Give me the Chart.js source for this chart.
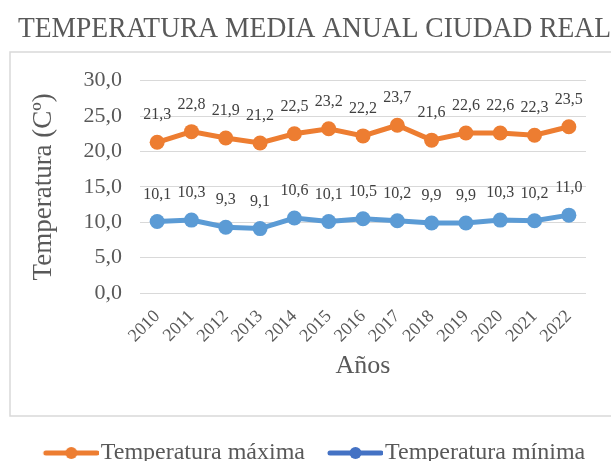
<!DOCTYPE html>
<html>
<head>
<meta charset="utf-8">
<script src="https://cdn.jsdelivr.net/npm/chart.js@4.4.1/dist/chart.umd.min.js"></script>
<style>
  html, body { margin: 0; padding: 0; background: #fff; }
  #wrap { width: 611px; height: 461px; }
</style>
</head>
<body>
<div id="wrap"><canvas id="chartTemp"></canvas></div>
<script>
// datos
var anios = ['2010','2011','2012','2013','2014','2015','2016','2017','2018','2019','2020','2021','2022'];
var tempMaxima = [21.3, 22.8, 21.9, 21.2, 22.5, 23.2, 22.2, 23.7, 21.6, 22.6, 22.6, 22.3, 23.5];
var tempMinima = [10.1, 10.3, 9.3, 9.1, 10.6, 10.1, 10.5, 10.2, 9.9, 9.9, 10.3, 10.2, 11.0];
var ejeY = { min: 0, max: 30, paso: 5 };

var naranja = '#ED7D31';
var azul = '#5B9BD5';
var coloresLeyenda = ['#ED7D31', '#4472C4'];
var gris = '#595959';
var fuente = "'Liberation Serif', 'Times New Roman', serif";

function coma(v) {
  return v.toFixed(1).replace('.', ',');
}

// icono de la leyenda: linea con punto (la linea va de x a x+55)
function iconoLeyenda(color) {
  var c = document.createElement('canvas');
  c.width = 65;
  c.height = 14;
  var ctx = c.getContext('2d');
  ctx.strokeStyle = color;
  ctx.lineWidth = 5;
  ctx.lineCap = 'round';
  ctx.beginPath();
  ctx.moveTo(12, 7);
  ctx.lineTo(63, 7);
  ctx.stroke();
  ctx.fillStyle = color;
  ctx.beginPath();
  ctx.arc(37.5, 7, 6, 0, Math.PI * 2);
  ctx.fill();
  return c;
}

// marco del grafico
var marco = {
  id: 'marco',
  beforeDraw: function(chart) {
    var ctx = chart.ctx;
    ctx.save();
    ctx.strokeStyle = '#d9d9d9';
    ctx.lineWidth = 1.5;
    ctx.strokeRect(10, 52, 610, 364);
    ctx.restore();
  }
};

// etiquetas de datos encima de cada punto
var etiquetas = {
  id: 'etiquetas',
  afterDatasetsDraw: function(chart) {
    var ctx = chart.ctx;
    ctx.save();
    ctx.font = '16px ' + fuente;
    ctx.fillStyle = '#404040';
    ctx.textAlign = 'center';
    ctx.textBaseline = 'middle';
    chart.data.datasets.forEach(function(ds, i) {
      var meta = chart.getDatasetMeta(i);
      meta.data.forEach(function(pt, j) {
        ctx.fillText(coma(ds.data[j]), pt.x, pt.y - 27);
      });
    });
    ctx.restore();
  }
};

const chartTemp = document.getElementById('chartTemp');
chartTemp.width = 611;
chartTemp.height = 461;

new Chart(chartTemp, {
  type: 'line',
  data: {
    labels: anios,
    datasets: [{
      label: 'Temperatura máxima',
      data: tempMaxima,
      borderColor: naranja,
      backgroundColor: naranja,
      borderWidth: 5,
      pointRadius: 7.5,
      pointBorderWidth: 0,
      tension: 0
    }, {
      label: 'Temperatura mínima',
      data: tempMinima,
      borderColor: azul,
      backgroundColor: azul,
      borderWidth: 5,
      pointRadius: 7.5,
      pointBorderWidth: 0,
      tension: 0
    }]
  },
  options: {
    responsive: false,
    animation: false,
    devicePixelRatio: 1,
    layout: { padding: { left: 18, right: 0, top: 0, bottom: 0 } },
    plugins: {
      tooltip: { enabled: false },
      title: {
        display: true,
        text: 'TEMPERATURA MEDIA ANUAL CIUDAD REAL',
        color: gris,
        font: { family: fuente, size: 29, weight: 'normal' },
        padding: { top: 11.6, bottom: 34.3 }
      },
      legend: {
        position: 'bottom',
        maxHeight: 43,
        labels: {
          usePointStyle: true,
          pointStyleWidth: 45,
          padding: 23,
          color: gris,
          font: { family: fuente, size: 24 },
          generateLabels: function(chart) {
            return chart.data.datasets.map(function(ds, i) {
              return {
                text: ds.label,
                fontColor: gris,
                pointStyle: iconoLeyenda(coloresLeyenda[i]),
                datasetIndex: i,
                lineWidth: 0
              };
            });
          }
        }
      }
    },
    scales: {
      x: {
        offset: true,
        grid: { display: false },
        border: { display: false },
        ticks: {
          autoSkip: false,
          color: gris,
          font: { family: fuente, size: 18 },
          minRotation: 45,
          maxRotation: 45,
          padding: 5
        },
        title: {
          display: true,
          text: 'Años',
          color: gris,
          font: { family: fuente, size: 26 },
          padding: { top: 0, bottom: 36 }
        },
        afterFit: function(scale) { scale.height = 125; }
      },
      y: {
        min: ejeY.min,
        max: ejeY.max,
        grid: { color: '#d9d9d9', lineWidth: 1, drawTicks: false },
        border: { display: false },
        ticks: {
          autoSkip: false,
          stepSize: ejeY.paso,
          color: gris,
          font: { family: fuente, size: 22 },
          padding: 18,
          callback: function(v) { return coma(v); }
        },
        title: {
          display: true,
          text: 'Temperatura (Cº)',
          color: gris,
          font: { family: fuente, size: 27 },
          padding: { top: 10, bottom: 0 }
        },
        afterFit: function(scale) { scale.width = 122; }
      },
      // eje vacio a la derecha, solo reserva el margen
      margen: {
        type: 'linear',
        position: 'right',
        display: true,
        grid: { display: false },
        border: { display: false },
        ticks: { display: false },
        afterFit: function(scale) { scale.width = 25; }
      }
    }
  },
  plugins: [marco, etiquetas]
});
</script>
</body>
</html>
